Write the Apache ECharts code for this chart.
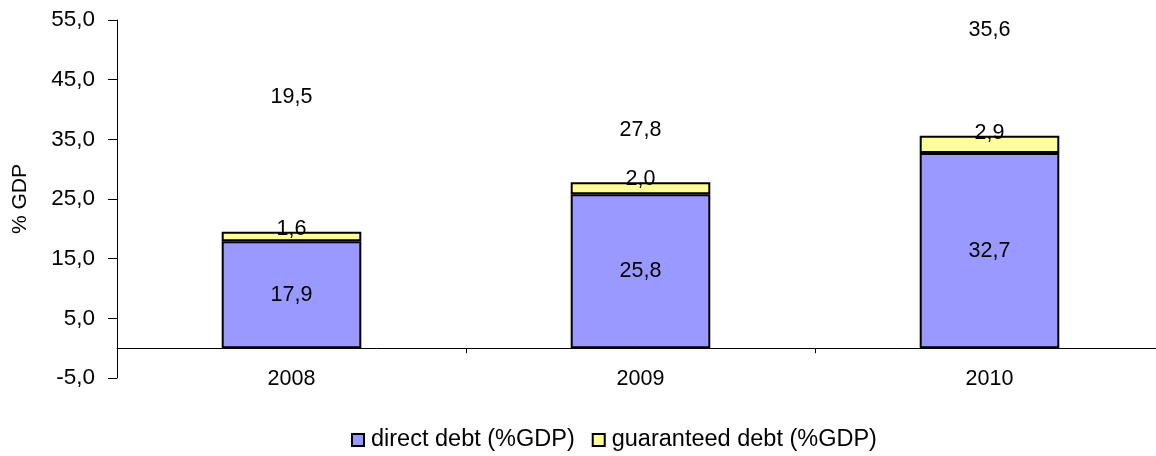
<!DOCTYPE html>
<html>
<head>
<meta charset="utf-8">
<script src="https://cdn.jsdelivr.net/npm/echarts@6/dist/echarts.min.js"></script>
<style>
  html, body { margin: 0; padding: 0; background: #fff; }
  #chart { width: 1156px; height: 456px; }
</style>
</head>
<body>
<div id="chart"></div>
<script>
// Public debt, % of GDP
const years = ['2008', '2009', '2010'];
const directDebt = [17.9, 25.8, 32.7];
const guaranteedDebt = [1.6, 2.0, 2.9];
const totalDebt = [19.5, 27.8, 35.6];
const yTicks = { min: -5, max: 55, step: 10 };

const FONT = 'Liberation Sans, Arial, sans-serif';
const FS_LABEL = 21.5;   // values on and above the bars
const FS_X = 21.5;       // year labels
const FS_Y = 22.5;       // value-axis tick labels
const FS_NAME = 21;      // value-axis title
const FS_LEGEND = 23.5;
const fmt = v => Number(v).toFixed(1).replace('.', ',');

// vertical lift (px) of each total label above its stack
const totalLift = [135, 52, 106];

const chart = echarts.init(document.getElementById('chart'));
chart.setOption({
  animation: false,
  textStyle: { fontFamily: FONT, color: '#000' },
  grid: { left: 117, top: 20, width: 1047, bottom: 78, containLabel: false, outerBoundsMode: 'none' },
  legend: {
    data: ['direct debt (%GDP)', 'guaranteed debt (%GDP)'],
    left: 351, top: 428, padding: 0,
    icon: 'rect', itemWidth: 12, itemHeight: 12, itemGap: 17,
    textStyle: { fontSize: FS_LEGEND, fontFamily: FONT, color: '#000', padding: [0, 0, 0, 2] }
  },
  xAxis: {
    type: 'category',
    data: years,
    axisLine: { onZero: true, lineStyle: { color: '#000', width: 1 } },
    axisTick: { show: true, length: 5, lineStyle: { color: '#000' } },
    axisLabel: { fontSize: FS_X, fontFamily: FONT, color: '#000', margin: -10 }
  },
  yAxis: {
    type: 'value',
    min: yTicks.min, max: yTicks.max, interval: yTicks.step,
    name: '% GDP', nameLocation: 'middle', nameRotate: 90, nameGap: 86,
    nameTextStyle: { fontSize: FS_NAME, fontFamily: FONT, color: '#000' },
    splitLine: { show: false },
    axisLine: { show: true, lineStyle: { color: '#000', width: 1 } },
    axisTick: { show: true, length: 9, lineStyle: { color: '#000' } },
    axisLabel: { fontSize: FS_Y, fontFamily: FONT, color: '#000', margin: 22, formatter: fmt }
  },
  series: [
    {
      name: 'direct debt (%GDP)', type: 'bar', stack: 'debt', barWidth: '40%',
      data: directDebt,
      itemStyle: { color: '#9999FF', borderColor: '#000', borderWidth: 2 },
      label: { show: true, position: 'inside', fontSize: FS_LABEL, fontFamily: FONT, color: '#000',
               formatter: p => fmt(p.value) }
    },
    {
      name: 'guaranteed debt (%GDP)', type: 'bar', stack: 'debt', barWidth: '40%',
      data: guaranteedDebt,
      itemStyle: { color: '#FFFF99', borderColor: '#000', borderWidth: 2 },
      label: { show: true, position: 'top', distance: -8, fontSize: FS_LABEL, fontFamily: FONT, color: '#000',
               formatter: p => fmt(p.value) }
    },
    {
      name: 'total', type: 'scatter', symbolSize: 0, silent: true,
      itemStyle: { opacity: 1 },
      data: totalDebt.map((v, i) => ({
        value: v,
        label: { offset: [0, -totalLift[i]] }
      })),
      label: { show: true, position: 'inside', fontSize: FS_LABEL, fontFamily: FONT, color: '#000',
               opacity: 1, formatter: p => fmt(p.value) }
    }
  ]
});
</script>
</body>
</html>
